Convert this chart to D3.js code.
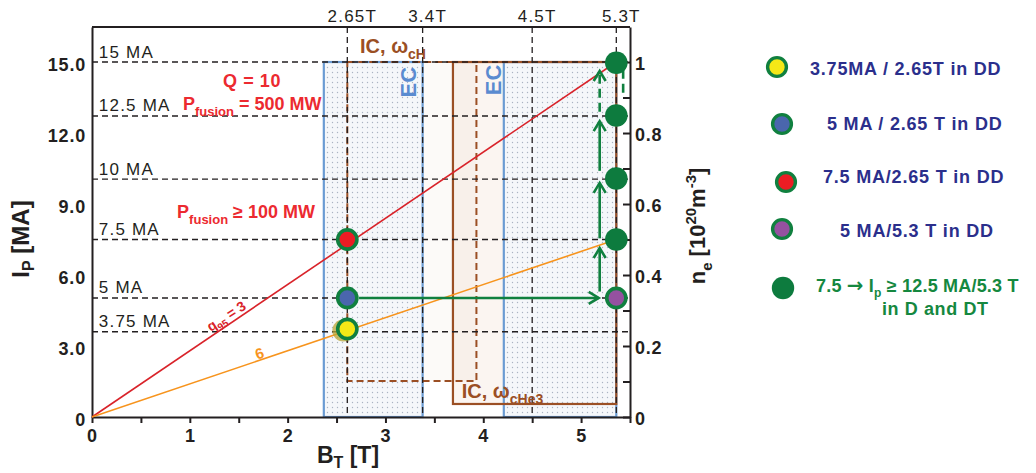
<!DOCTYPE html>
<html><head><meta charset="utf-8">
<script src="https://cdn.jsdelivr.net/npm/d3@7"></script>
<style>
body{margin:0;background:#fff;}
svg{display:block;font-family:"Liberation Sans",Arial,Helvetica,sans-serif;}
</style></head><body>
<svg id="chart" width="1036" height="473"></svg>
<script>
// ---------------- data ----------------
const bTickValues = [0,0.5,1,1.5,2,2.5,3,3.5,4,4.5,5,5.5];
const ipTickValues = [0,3,6,9,12,15];
const ipTickLabels = ["0","3.0","6.0","9.0","12.0","15.0"];
const neTickValues = [0,0.1,0.2,0.3,0.4,0.5,0.6,0.7,0.8,0.9,1.0];
const neTickLabels = ["0","","0.2","","0.4","","0.6","","0.8","","1"];

const fieldValues = [2.61, 3.38, 4.5, 5.36];
const fieldLabels = ["2.65T","3.4T","4.5T","5.3T"];

const currentLevels = [15, 12.72, 10.05, 7.5, 5.03, 3.6];
const currentLabels = ["15 MA","12.5 MA","10 MA","7.5 MA","5 MA","3.75 MA"];

const ecBandStart = [2.37, 4.21];
const ecBandEnd   = [3.38, 5.36];
const ecBandTop   = 15;

const icDashedB  = [2.61, 3.93];
const icDashedIp = [1.52, 15];
const icSolidB   = [3.69, 5.36];
const icSolidIp  = [0.55, 15];

const q95Labels = ["3","6"];
const q95EndB   = [5.36, 5.36];
const q95EndIp  = [15, 7.5];

const scenarioB    = [2.61, 2.61, 2.61, 5.36, 5.36, 5.36, 5.36, 5.36];
const scenarioIp   = [3.72, 5.03, 7.5, 5.03, 7.5, 10.08, 12.74, 14.97];
const scenarioFill = ["#f4e817","#4a66ad","#ec1c24","#9551a0","#0d7b3e","#0d7b3e","#0d7b3e","#0d7b3e"];
const scenarioRing = [true, true, true, true, false, false, false, false];

// arrows: start B, start Ip, end B, end Ip, dashed, head
const arrowB0  = [2.73, 5.19, 5.19, 5.19, 5.19, 5.43];
const arrowIp0 = [5.03, 5.30, 7.55, 10.40, 12.90, 13.70];
const arrowB1  = [5.18, 5.19, 5.19, 5.19, 5.19, 5.43];
const arrowIp1 = [5.03, 7.14, 9.89, 12.50, 14.62, 14.66];
const arrowDash = [false, false, false, false, true, true];
const arrowHead = [true, true, true, true, true, false];

const legendLabels = [
  [{t:"3.75MA / 2.65T in DD"}],
  [{t:"5 MA / 2.65 T in DD"}],
  [{t:"7.5 MA/2.65 T in DD"}],
  [{t:"5 MA/5.3 T in DD"}],
  [{t:"7.5 "},{t:"\u2192",big:true},{t:" I"},{t:"p",sub:true},{t:" \u2265 12.5 MA/5.3 T"}]
];
const legendFill = ["#f4e817","#4a66ad","#ec1c24","#9551a0","#0d7b3e"];
const legendRing = [true,true,true,true,false];

// ---------------- layout ----------------
const svg = d3.select("#chart");
const x  = d3.scaleLinear().domain([0, 5.5]).range([92, 630]);
const y  = d3.scaleLinear().domain([0, 16.48]).range([417, 27]);
const yR = d3.scaleLinear().domain([0, 16.48/15]).range([417, 27]);

const BLACK = "#231f20", BROWN = "#9b4f24", BLUE = "#6a9bd3", GREEN = "#10803f",
      RED = "#d9232a", ORANGE = "#f7941d", NAVY = "#2b2f8c";

function rich(sel, parts, base, subShift) {
  const ss = subShift === undefined ? 0.3 : subShift;
  let shift = 0;
  parts.forEach(p => {
    const target = p.sub ? base*ss : (p.sup ? -base*0.42 : 0);
    const ts = sel.append("tspan").text(p.t).attr("dy", target - shift);
    shift = target;
    if (p.sub || p.sup) ts.attr("font-size", Math.round(base*0.68));
    if (p.big) ts.attr("font-family", "'DejaVu Sans',sans-serif").attr("font-size", base*1.1);
  });
}

const defs = svg.append("defs");
const pat = defs.append("pattern").attr("id","dots").attr("patternUnits","userSpaceOnUse")
  .attr("width",5).attr("height",5);
pat.append("rect").attr("width",5).attr("height",5).attr("fill","#f5f7fa");
pat.append("circle").attr("cx",2.5).attr("cy",2.5).attr("r",0.7).attr("fill","#aab4c3");

// IC fills
svg.append("rect").attr("x", x(icSolidB[0])).attr("y", y(icSolidIp[1]))
  .attr("width", x(icSolidB[1]) - x(icSolidB[0])).attr("height", y(icSolidIp[0]) - y(icSolidIp[1]))
  .attr("fill", "#fbf5f1");
svg.append("rect").attr("x", x(icDashedB[0])).attr("y", y(icDashedIp[1]))
  .attr("width", x(icDashedB[1]) - x(icDashedB[0])).attr("height", y(icDashedIp[0]) - y(icDashedIp[1]))
  .attr("fill", "#a0522d").attr("fill-opacity", 0.03);

// EC bands
svg.selectAll("rect.ec").data(ecBandStart).join("rect").attr("class","ec")
  .attr("x", (d,i) => x(d)).attr("y", y(ecBandTop))
  .attr("width", (d,i) => x(ecBandEnd[i]) - x(d)).attr("height", y(0) - y(ecBandTop))
  .attr("fill", "url(#dots)").attr("stroke", BLUE).attr("stroke-width", 2.2);

// IC strokes
svg.append("rect").attr("x", x(icDashedB[0])).attr("y", y(icDashedIp[1]))
  .attr("width", x(icDashedB[1]) - x(icDashedB[0])).attr("height", y(icDashedIp[0]) - y(icDashedIp[1]))
  .attr("fill", "none").attr("stroke", BROWN).attr("stroke-width", 2).attr("stroke-dasharray","7,4");
svg.append("rect").attr("x", x(icSolidB[0])).attr("y", y(icSolidIp[1]))
  .attr("width", x(icSolidB[1]) - x(icSolidB[0])).attr("height", y(icSolidIp[0]) - y(icSolidIp[1]))
  .attr("fill", "none").attr("stroke", BROWN).attr("stroke-width", 2.2);

// dashed grid lines
svg.selectAll("line.lev").data(currentLevels).join("line").attr("class","lev")
  .attr("x1", x(0)).attr("x2", x(5.5)).attr("y1", d => y(d)).attr("y2", d => y(d))
  .attr("stroke", BLACK).attr("stroke-width", 1.4).attr("stroke-dasharray","6,4");
svg.selectAll("line.fld").data(fieldValues).join("line").attr("class","fld")
  .attr("x1", d => x(d)).attr("x2", d => x(d)).attr("y1", y(16.48)).attr("y2", y(0))
  .attr("stroke", BLACK).attr("stroke-width", 1.3).attr("stroke-dasharray","6,4");

// level labels
svg.selectAll("text.lev").data(currentLevels).join("text").attr("class","lev")
  .attr("x", x(0.07)).attr("y", d => y(d) - 4.5)
  .attr("font-size", 17).attr("letter-spacing", 1.2).attr("fill", "#231f20")
  .text((d,i) => currentLabels[i]);

// field labels at top
svg.selectAll("text.fld").data(fieldValues).join("text").attr("class","fld")
  .attr("x", d => x(d) + 5).attr("y", 22).attr("text-anchor","middle")
  .attr("font-size", 17).attr("letter-spacing", 1.2).attr("fill", "#231f20")
  .text((d,i) => fieldLabels[i]);

// axes
const axB = svg.append("g").attr("transform", `translate(0,${y(0)})`)
  .call(d3.axisBottom(x).tickValues(bTickValues).tickSize(6).tickSizeOuter(0).tickPadding(6)
    .tickFormat(d => Number.isInteger(d) ? d : ""));
const axL = svg.append("g").attr("transform", `translate(${x(0)},0)`)
  .call(d3.axisLeft(y).tickValues(ipTickValues).tickSize(0).tickPadding(6)
    .tickFormat((d,i) => ipTickLabels[i]));
const axR = svg.append("g").attr("transform", `translate(${x(5.5)},0)`)
  .call(d3.axisRight(yR).tickValues(neTickValues).tickSizeInner(-7).tickSizeOuter(0).tickPadding(5)
    .tickFormat((d,i) => neTickLabels[i]));
[axB, axL, axR].forEach(g => {
  g.select(".domain").attr("stroke", BLACK).attr("stroke-width", 2);
  g.selectAll(".tick line").attr("stroke", BLACK).attr("stroke-width", 2);
  g.selectAll("text").attr("font-size", 18).attr("font-weight","bold").attr("fill","#231f20")
    .attr("font-family", "'Liberation Sans',Arial,sans-serif").attr("letter-spacing", 0.8);
});
axL.selectAll("text").attr("dy", "0.45em");
axR.selectAll("text").attr("dy", "0.4em");
svg.append("line").attr("x1", x(0)).attr("x2", x(5.5)).attr("y1", y(16.48)).attr("y2", y(16.48))
  .attr("stroke", BLACK).attr("stroke-width", 2);

// q95 lines
const qColors = [RED, ORANGE];
svg.selectAll("line.q").data(q95EndB).join("line").attr("class","q")
  .attr("x1", x(0)).attr("y1", y(0)).attr("x2", d => x(d)).attr("y2", (d,i) => y(q95EndIp[i]))
  .attr("stroke", (d,i) => qColors[i]).attr("stroke-width", 1.6);

// q95 labels
const q1 = svg.append("text").attr("x", x(1.40)).attr("y", y(4.09))
  .attr("transform", `rotate(-33,${x(1.40)},${y(4.09)})`).attr("text-anchor","middle")
  .attr("font-size", 14).attr("font-weight","bold").attr("fill", RED);
rich(q1, [{t:"q"},{t:"95",sub:true},{t:" = " + q95Labels[0]}], 14);
svg.append("text").attr("x", x(1.73)).attr("y", y(2.48))
  .attr("transform", `rotate(-19,${x(1.73)},${y(2.48)})`).attr("text-anchor","middle")
  .attr("font-size", 15).attr("font-weight","bold").attr("fill", ORANGE).text(q95Labels[1]);

// arrows
const ag = svg.append("g").attr("stroke", GREEN).attr("stroke-width", 2.6).attr("fill","none");
arrowB0.forEach((b0, i) => {
  const X0 = x(b0), Y0 = y(arrowIp0[i]), X1 = x(arrowB1[i]), Y1 = y(arrowIp1[i]);
  const ln = ag.append("line").attr("x1", X0).attr("y1", Y0).attr("x2", X1).attr("y2", Y1);
  if (arrowDash[i]) ln.attr("stroke-dasharray", "9,5");
  if (arrowHead[i]) {
    const ang = Math.atan2(Y1 - Y0, X1 - X0);
    const L = 10, W = 6;
    const bx = X1 - L*Math.cos(ang), by = Y1 - L*Math.sin(ang);
    const px = -Math.sin(ang)*W, py = Math.cos(ang)*W;
    ag.append("path").attr("d", `M${bx+px},${by+py}L${X1},${Y1}L${bx-px},${by-py}`)
      .attr("stroke-linejoin","miter");
  }
});

// markers
svg.append("circle").attr("cx", x(scenarioB[0]) - 4).attr("cy", y(scenarioIp[0]) + 1.5).attr("r", 11)
  .attr("fill", "#b8a534").attr("opacity", 0.75);
svg.selectAll("circle.sc").data(scenarioB).join("circle").attr("class","sc")
  .attr("cx", d => x(d)).attr("cy", (d,i) => y(scenarioIp[i]))
  .attr("r", (d,i) => scenarioRing[i] ? 9.6 : 11.3)
  .attr("fill", (d,i) => scenarioFill[i])
  .attr("stroke", (d,i) => scenarioRing[i] ? GREEN : "none").attr("stroke-width", 3.6);

// annotations
svg.append("text").attr("x", x(1.636)).attr("y", y(13.94)).attr("text-anchor","middle")
  .attr("font-size", 18).attr("font-weight","bold").attr("fill", "#ec2a30").attr("letter-spacing", 0.6)
  .text("Q = 10");
const pf1 = svg.append("text").attr("x", x(0.93)).attr("y", y(12.97))
  .attr("font-size", 18).attr("font-weight","bold").attr("fill", "#ec2a30");
rich(pf1, [{t:"P"},{t:"fusion",sub:true},{t:" = 500 MW"}], 19);
const pf2 = svg.append("text").attr("x", x(0.87)).attr("y", y(8.41))
  .attr("font-size", 18).attr("font-weight","bold").attr("fill", "#ec2a30");
rich(pf2, [{t:"P"},{t:"fusion",sub:true},{t:" \u2265 100 MW"}], 19);

const ic1 = svg.append("text").attr("x", x(2.74)).attr("y", y(15.38))
  .attr("font-size", 20).attr("font-weight","bold").attr("fill", BROWN);
rich(ic1, [{t:"IC, \u03c9"},{t:"cH",sub:true}], 20);
const ic2 = svg.append("text").attr("x", x(3.78)).attr("y", y(0.80))
  .attr("font-size", 20).attr("font-weight","bold").attr("fill", BROWN);
rich(ic2, [{t:"IC, \u03c9"},{t:"cHe3",sub:true}], 20);

const ecLabB = [3.24, 4.105], ecLabIp = [14.15, 14.24];
ecLabB.forEach((b, i) => {
  svg.append("text").attr("transform", `translate(${x(b)},${y(ecLabIp[i])}) rotate(-90)`)
    .attr("text-anchor","middle").attr("dominant-baseline","central")
    .attr("font-size", 22).attr("font-weight","bold").attr("fill", "#5a8bd0").text("EC");
});

// axis titles
const bt = svg.append("text").attr("x", 348).attr("y", 463).attr("text-anchor","middle")
  .attr("font-size", 23).attr("font-weight","bold").attr("fill", "#231f20");
rich(bt, [{t:"B"},{t:"T",sub:true},{t:" [T]"}], 23, 0.2);
const ipl = svg.append("text").attr("transform", "translate(29,239) rotate(-90)").attr("text-anchor","middle")
  .attr("font-size", 24).attr("font-weight","bold").attr("fill", "#231f20");
rich(ipl, [{t:"I"},{t:"P",sub:true},{t:" [MA]"}], 24, 0.2);
const nel = svg.append("text").attr("transform", "translate(705,226) rotate(-90)").attr("text-anchor","middle")
  .attr("font-size", 22).attr("font-weight","bold").attr("fill", "#231f20");
rich(nel, [{t:"n"},{t:"e",sub:true},{t:" [10"},{t:"20",sup:true},{t:"m"},{t:"-3",sup:true},{t:"]"}], 22);

// legend
const legCx = [777, 782, 786, 782, 783];
const legCy = [67, 124, 182, 229, 288];
const legTx = [810, 827, 823, 840, 816];
const legTy = [75, 130, 183, 237, 292];
legendLabels.forEach((parts, i) => {
  svg.append("circle").attr("cx", legCx[i]).attr("cy", legCy[i])
    .attr("r", legendRing[i] ? 9.4 : 11.2).attr("fill", legendFill[i])
    .attr("stroke", legendRing[i] ? GREEN : "none").attr("stroke-width", 3.4);
  const t = svg.append("text").attr("x", legTx[i]).attr("y", legTy[i])
    .attr("font-size", 18).attr("font-weight","bold")
    .attr("letter-spacing", legendRing[i] ? 0.8 : 0.2)
    .attr("fill", legendRing[i] ? NAVY : "#15883f");
  rich(t, parts, 18);
});
svg.append("text").attr("x", 882).attr("y", 315).attr("font-size", 18).attr("font-weight","bold")
  .attr("letter-spacing", 0.6).attr("fill", "#15883f").text("in D and DT");
</script>
</body></html>
